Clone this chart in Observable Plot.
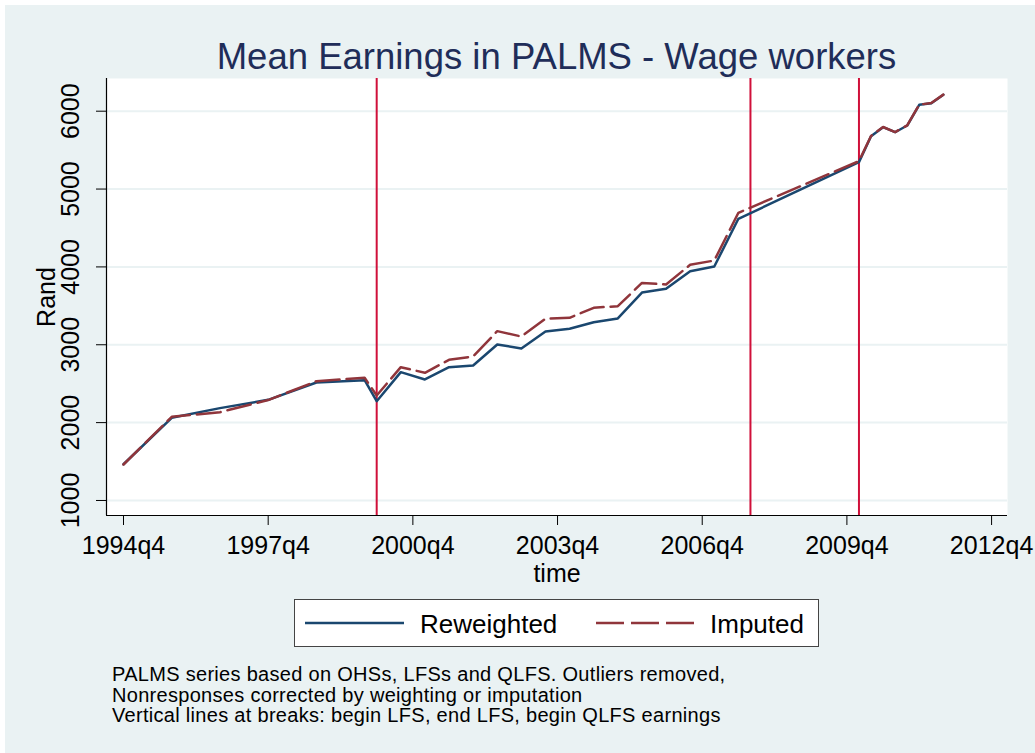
<!DOCTYPE html>
<html><head><meta charset="utf-8">
<script src="https://cdn.jsdelivr.net/npm/d3@7"></script>
<script src="https://cdn.jsdelivr.net/npm/@observablehq/plot@0.6"></script>
<style>
html,body{margin:0;padding:0;background:#fff;}
#wrap{position:relative;width:1035px;height:753px;overflow:hidden;font-family:"Liberation Sans",Arial,Helvetica,sans-serif;color:#000;}
#bg{position:absolute;left:5px;top:5px;right:0;bottom:0;background:#eaf2f3;}
#chart{position:absolute;left:0;top:0;}
#title{position:absolute;left:106px;width:901px;top:39px;text-align:center;font-size:36.5px;line-height:36px;color:#1f2d59;white-space:nowrap;}
#legend{position:absolute;left:294px;top:599px;width:523px;height:46px;background:#fff;border:1.5px solid #444;}
#legend svg{position:absolute;left:0;top:0;}
.lg{position:absolute;font-size:26px;line-height:26px;top:11px;white-space:nowrap;}
#notes{position:absolute;left:112px;top:664px;font-size:20px;line-height:20.5px;letter-spacing:0.3px;white-space:nowrap;}
</style></head>
<body>
<div id="wrap">
  <div id="bg"></div>
  <div id="chart"></div>
  <div id="title"></div>
  <div id="legend"></div>
  <div id="notes"></div>
</div>
<script>
// ---- data ----
const quarters = ["1994q4","1995q4","1996q4","1997q4","1998q4","1999q4","2000q1","2000q3","2001q1","2001q3","2002q1","2002q3","2003q1","2003q3","2004q1","2004q3","2005q1","2005q3","2006q1","2006q3","2007q1","2007q3","2010q1","2010q2","2010q3","2010q4","2011q1","2011q2","2011q3","2011q4"];
const reweighted = [1465,2062,2186,2293,2515,2545,2275,2648,2554,2712,2734,3004,2952,3171,3205,3290,3338,3670,3719,3945,4005,4618,5345,5679,5795,5730,5816,6082,6103,6211];
const imputed    = [1462,2075,2134,2290,2532,2576,2349,2712,2640,2807,2849,3175,3106,3334,3346,3475,3496,3794,3774,4027,4082,4695,5358,5682,5797,5732,5818,6084,6105,6213];
const breaks = ["2000q1","2007q4","2010q1"];
const xTickLabels = ["1994q4","1997q4","2000q4","2003q4","2006q4","2009q4","2012q4"];
const yTicks = [1000,2000,3000,4000,5000,6000];
const titleText = "Mean Earnings in PALMS - Wage workers";
const seriesNames = ["Reweighted","Imputed"];
const notes = ["PALMS series based on OHSs, LFSs and QLFS. Outliers removed,",
               "Nonresponses corrected by weighting or imputation",
               "Vertical lines at breaks: begin LFS, end LFS, begin QLFS earnings"];
const colors = ["#1a476f","#90353b"];
const breakColor = "#d0103a";

// ---- build ----
const tIndex = s => (+s.slice(0,4) - 1994) * 4 + (+s.slice(5) - 4);
const rw = quarters.map((q,i) => ({t: tIndex(q), v: reweighted[i]}));
const im = quarters.map((q,i) => ({t: tIndex(q), v: imputed[i]}));
const xTicks = xTickLabels.map(tIndex);
const xLab = new Map(xTickLabels.map(s => [tIndex(s), s]));
const xDom = [-1.41, 73.32];
const yDom = [807, 6420];

const plot = Plot.plot({
  width: 1035, height: 600,
  marginLeft: 106, marginRight: 28, marginTop: 78, marginBottom: 85,
  style: {background: "transparent", fontFamily: '"Liberation Sans", Arial, Helvetica, sans-serif', color: "black", overflow: "visible"},
  x: {domain: xDom},
  y: {domain: yDom},
  marks: [
    Plot.frame({fill: "white", stroke: null}),
    Plot.gridY(yTicks, {stroke: "#eaf2f3", strokeOpacity: 1, strokeWidth: 2}),
    Plot.ruleX(breaks.map(tIndex), {stroke: breakColor, strokeWidth: 2}),
    Plot.line(rw, {x: "t", y: "v", stroke: colors[0], strokeWidth: 2.5}),
    Plot.line(im, {x: "t", y: "v", stroke: colors[1], strokeWidth: 2.5, strokeDasharray: "24,7"}),
    Plot.ruleX([xDom[0]], {stroke: "black", strokeWidth: 1.2}),
    Plot.ruleY([yDom[0]], {stroke: "black", strokeWidth: 1.2}),
    Plot.axisX(xTicks, {tickSize: 10, tickPadding: 11, fontSize: 25, tickFormat: d => xLab.get(d),
      label: "time", labelAnchor: "center", labelArrow: "none", labelOffset: 66}),
    Plot.axisY(yTicks, {tickSize: 10, tickPadding: 18, fontSize: 25, tickRotate: -90, tickFormat: d => String(d),
      label: "Rand", labelAnchor: "center", labelArrow: "none", labelOffset: 69})
  ]
});
document.getElementById("chart").appendChild(plot);
document.getElementById("title").textContent = titleText;
document.getElementById("notes").innerHTML = notes.map(n => `<div>${n}</div>`).join("");

// legend
const lg = document.getElementById("legend");
const ns = "http://www.w3.org/2000/svg";
const sv = document.createElementNS(ns, "svg");
sv.setAttribute("width", 523); sv.setAttribute("height", 46);
const mk = (x1, x2, c, dash) => {
  const l = document.createElementNS(ns, "line");
  l.setAttribute("x1", x1); l.setAttribute("x2", x2);
  l.setAttribute("y1", 23); l.setAttribute("y2", 23);
  l.setAttribute("stroke", c); l.setAttribute("stroke-width", 2.5);
  if (dash) l.setAttribute("stroke-dasharray", dash);
  sv.appendChild(l);
};
mk(10, 109, colors[0]);
mk(301, 399, colors[1], "28,7");
lg.appendChild(sv);
[[125, seriesNames[0]], [415, seriesNames[1]]].forEach(([x, t]) => {
  const d = document.createElement("div");
  d.className = "lg"; d.style.left = x + "px"; d.textContent = t;
  lg.appendChild(d);
});
</script>
</body></html>
